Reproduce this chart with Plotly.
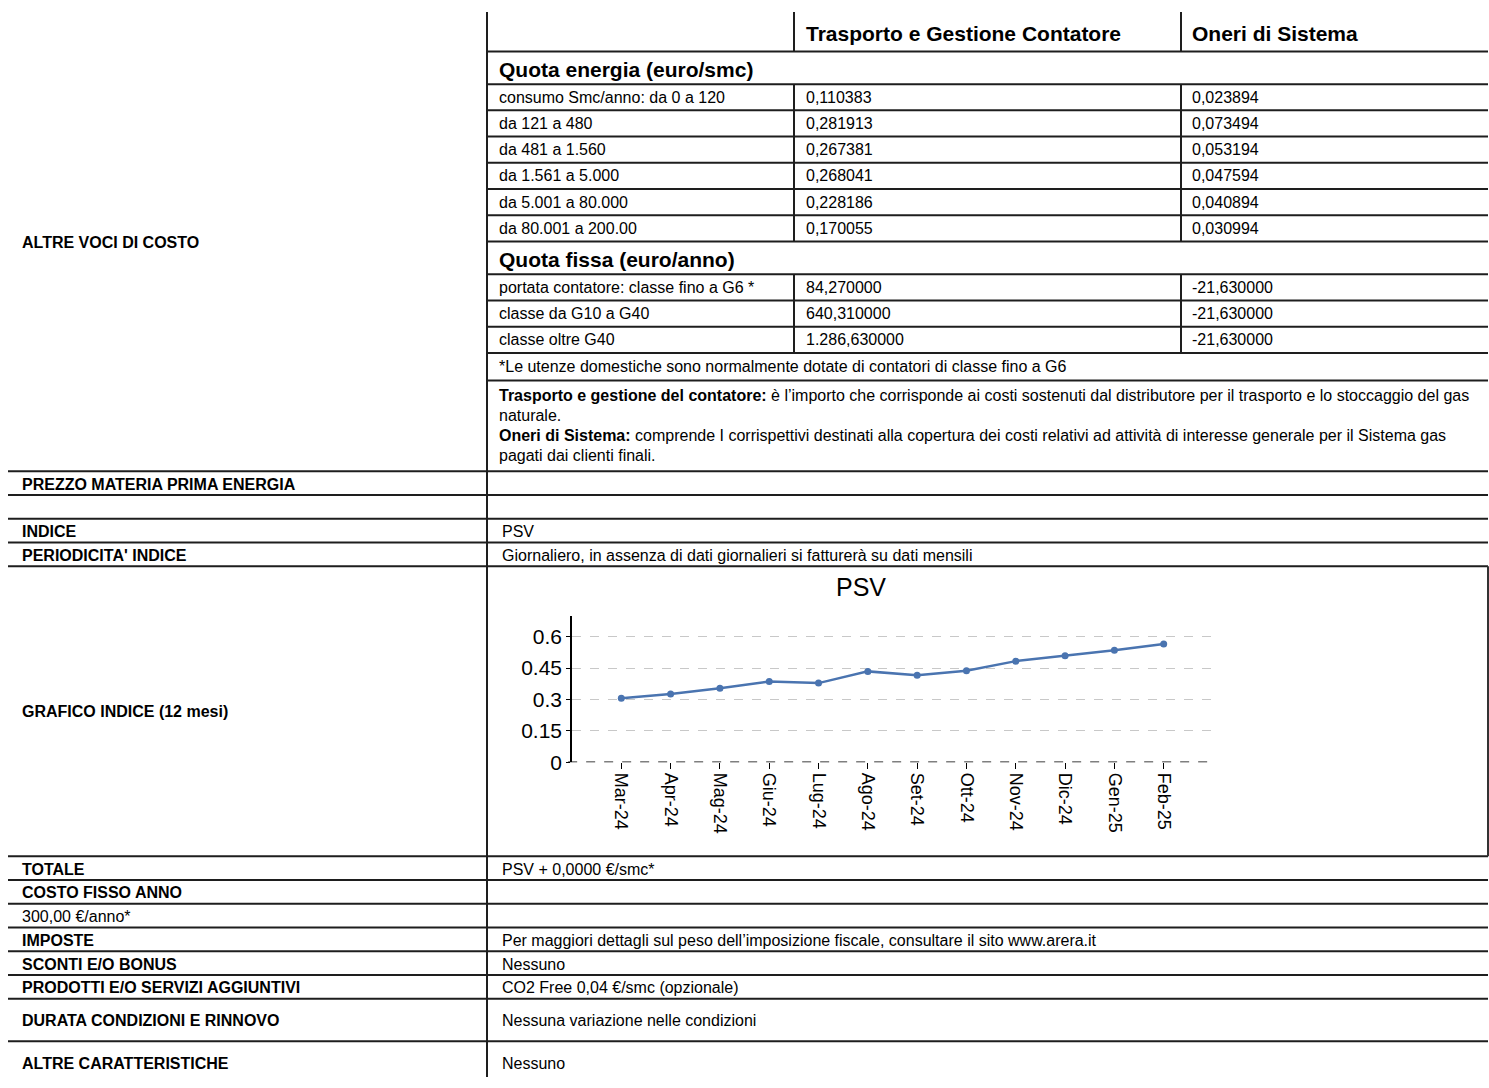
import plotly.graph_objects as go

# ---------------- data ----------------
months = ["Mar-24", "Apr-24", "Mag-24", "Giu-24", "Lug-24", "Ago-24",
          "Set-24", "Ott-24", "Nov-24", "Dic-24", "Gen-25", "Feb-25"]
psv = [0.306, 0.326, 0.353, 0.386, 0.378, 0.434, 0.415, 0.437, 0.483, 0.509, 0.535, 0.565]
y_ticks = [0, 0.15, 0.3, 0.45, 0.6]
y_tick_text = ["0", "0.15", "0.3", "0.45", "0.6"]

col_headers = ["Trasporto e Gestione Contatore", "Oneri di Sistema"]
energia_title = "Quota energia (euro/smc)"
energia_labels = ["consumo Smc/anno: da 0 a 120", "da 121 a 480", "da 481 a 1.560",
                  "da 1.561 a 5.000", "da 5.001 a 80.000", "da 80.001 a 200.00"]
energia_trasporto = ["0,110383", "0,281913", "0,267381", "0,268041", "0,228186", "0,170055"]
energia_oneri = ["0,023894", "0,073494", "0,053194", "0,047594", "0,040894", "0,030994"]
fissa_title = "Quota fissa (euro/anno)"
fissa_labels = ["portata contatore: classe fino a G6 *", "classe da G10 a G40", "classe oltre G40"]
fissa_trasporto = ["84,270000", "640,310000", "1.286,630000"]
fissa_oneri = ["-21,630000", "-21,630000", "-21,630000"]
footnote = "*Le utenze domestiche sono normalmente dotate di contatori di classe fino a G6"
desc_lines = [
    "<b>Trasporto e gestione del contatore:</b> è l’importo che corrisponde ai costi sostenuti dal distributore per il trasporto e lo stoccaggio del gas",
    "naturale.",
    "<b>Oneri di Sistema:</b> comprende I corrispettivi destinati alla copertura dei costi relativi ad attività di interesse generale per il Sistema gas",
    "pagati dai clienti finali.",
]
left_top_label = "ALTRE VOCI DI COSTO"
lower_labels = ["PREZZO MATERIA PRIMA ENERGIA", "INDICE", "PERIODICITA' INDICE",
                "GRAFICO INDICE (12 mesi)", "TOTALE", "COSTO FISSO ANNO", "300,00 €/anno*",
                "IMPOSTE", "SCONTI E/O BONUS", "PRODOTTI E/O SERVIZI AGGIUNTIVI",
                "DURATA CONDIZIONI E RINNOVO", "ALTRE CARATTERISTICHE"]
lower_bold = [True, True, True, True, True, True, False, True, True, True, True, True]
lower_values = ["", "PSV", "Giornaliero, in assenza di dati giornalieri si fatturerà su dati mensili",
                "", "PSV + 0,0000 €/smc*", "", "",
                "Per maggiori dettagli sul peso dell’imposizione fiscale, consultare il sito www.arera.it",
                "Nessuno", "CO2 Free 0,04 €/smc (opzionale)",
                "Nessuna variazione nelle condizioni", "Nessuno"]

# ---------------- layout helpers (pixel geometry of the page) ----------------
W, H = 1489, 1088
FONT = "Liberation Sans, Arial, sans-serif"
LINE = "#1e1e1e"


def px(x):
    return x / W


def py(y):
    return 1 - y / H


shapes = []
annotations = []


def hline(y, x0=8, x1=1488, w=2, color=LINE):
    shapes.append(dict(type="line", xref="paper", yref="paper", x0=px(x0), x1=px(x1),
                       y0=py(y), y1=py(y), line=dict(color=color, width=w)))


def vline(x, y0, y1, w=2, color=LINE):
    shapes.append(dict(type="line", xref="paper", yref="paper", x0=px(x), x1=px(x),
                       y0=py(y0), y1=py(y1), line=dict(color=color, width=w)))


def text(x, y, s, size=16, bold=False, anchor="left"):
    annotations.append(dict(xref="paper", yref="paper", x=px(x), y=py(y),
                            text=f"<b>{s}</b>" if bold else s, showarrow=False,
                            xanchor=anchor, yanchor="middle",
                            font=dict(family=FONT, size=size, color="#000")))


# top table geometry
COL1, COL2, COL3 = 497, 804, 1190
DIV1, DIV2 = 794, 1181
vline(487, 12, 1088)
vline(DIV1, 12, 52)
vline(DIV2, 12, 52)
hline(52, 488)
text(COL2, 34, col_headers[0], 21, True)
text(COL3, 34, col_headers[1], 21, True)

text(COL1, 70, energia_title, 21, True)
hline(85, 488)
row_h = 26.5
y = 85
for lab, a, b in zip(energia_labels, energia_trasporto, energia_oneri):
    text(COL1, y + row_h / 2, lab)
    text(COL2, y + row_h / 2, a)
    text(COL3, y + row_h / 2, b)
    y += row_h
    hline(y, 488)
vline(DIV1, 85, y)
vline(DIV2, 85, y)

text(COL1, y + 18, fissa_title, 21, True)
y += 33
hline(y, 488)
y_f0 = y
for lab, a, b in zip(fissa_labels, fissa_trasporto, fissa_oneri):
    text(COL1, y + row_h / 2, lab)
    text(COL2, y + row_h / 2, a)
    text(COL3, y + row_h / 2, b)
    y += row_h
    hline(y, 488)
vline(DIV1, y_f0, y)
vline(DIV2, y_f0, y)

text(COL1, y + 14, footnote)
y += 28
hline(y, 488)
for i, ln in enumerate(desc_lines):
    text(COL1, 400 + 20 * i, ln)

text(20, 245, left_top_label, 16, True)

# lower rows: (text y, bottom line y)
lower_text_y = [489, 537, 561, 719, 878, 902, 926, 950, 974, 998, 1031, 1074]
lower_line_y = [500, 548, 572, 865, 889, 913, 937, 961, 985, 1009, 1052, None]
hline(476)
hline(524)
for lab, bold, val, ty, ly in zip(lower_labels, lower_bold, lower_values, lower_text_y, lower_line_y):
    text(20, ty, lab, 16, bold)
    if val:
        text(500, ty, val)
    if ly is not None:
        hline(ly)

# chart frame
vline(1488, 572, 865, w=2, color="#333")

# chart title
text(861, 593, "PSV", 25, False, anchor="center")

# ---------------- chart ----------------
fig = go.Figure()
fig.add_trace(go.Scatter(
    x=list(range(len(months))), y=psv, mode="lines+markers",
    line=dict(color="#4a74b0", width=2.5),
    marker=dict(color="#4a74b0", size=7),
    hoverinfo="x+y", showlegend=False,
))

# dashed zero line along the x axis
shapes.append(dict(type="line", xref="x domain", yref="y", x0=-0.006, x1=1, y0=0, y1=0,
                   line=dict(color="#000", width=1.5, dash="dash"), layer="above"))

fig.update_layout(
    width=W, height=H,
    margin=dict(l=0, r=0, t=0, b=0),
    paper_bgcolor="white", plot_bgcolor="white",
    shapes=shapes, annotations=annotations,
    font=dict(family=FONT, color="#000"),
    xaxis=dict(
        domain=[px(572), px(1213)],
        range=[-1, 12],
        tickmode="array", tickvals=list(range(len(months))), ticktext=months,
        tickangle=90, tickfont=dict(size=18, family=FONT),
        ticks="outside", ticklen=6, tickcolor="#000",
        showgrid=False, zeroline=False, showline=False,
        fixedrange=True,
    ),
    yaxis=dict(
        domain=[py(770), py(622)],
        range=[0, 0.7],
        tickmode="array", tickvals=y_ticks, ticktext=y_tick_text,
        tickfont=dict(size=21, family=FONT),
        ticks="outside", ticklen=4, tickcolor="#000",
        showline=True, linecolor="#000", linewidth=1.5,
        showgrid=True, gridcolor="#c8c8c8", griddash="dash", gridwidth=1,
        zeroline=False,
        fixedrange=True,
    ),
)

post = (
    "var d=document.querySelector('.plotly-graph-div');"
    "document.body.style.margin='0';document.body.style.padding='0';"
    "document.body.style.overflow='hidden';document.documentElement.style.overflow='hidden';"
    "d.style.position='fixed';d.style.top='0';d.style.left='0';"
)

fig.write_html("out.html", config={"displayModeBar": False}, post_script=post)
